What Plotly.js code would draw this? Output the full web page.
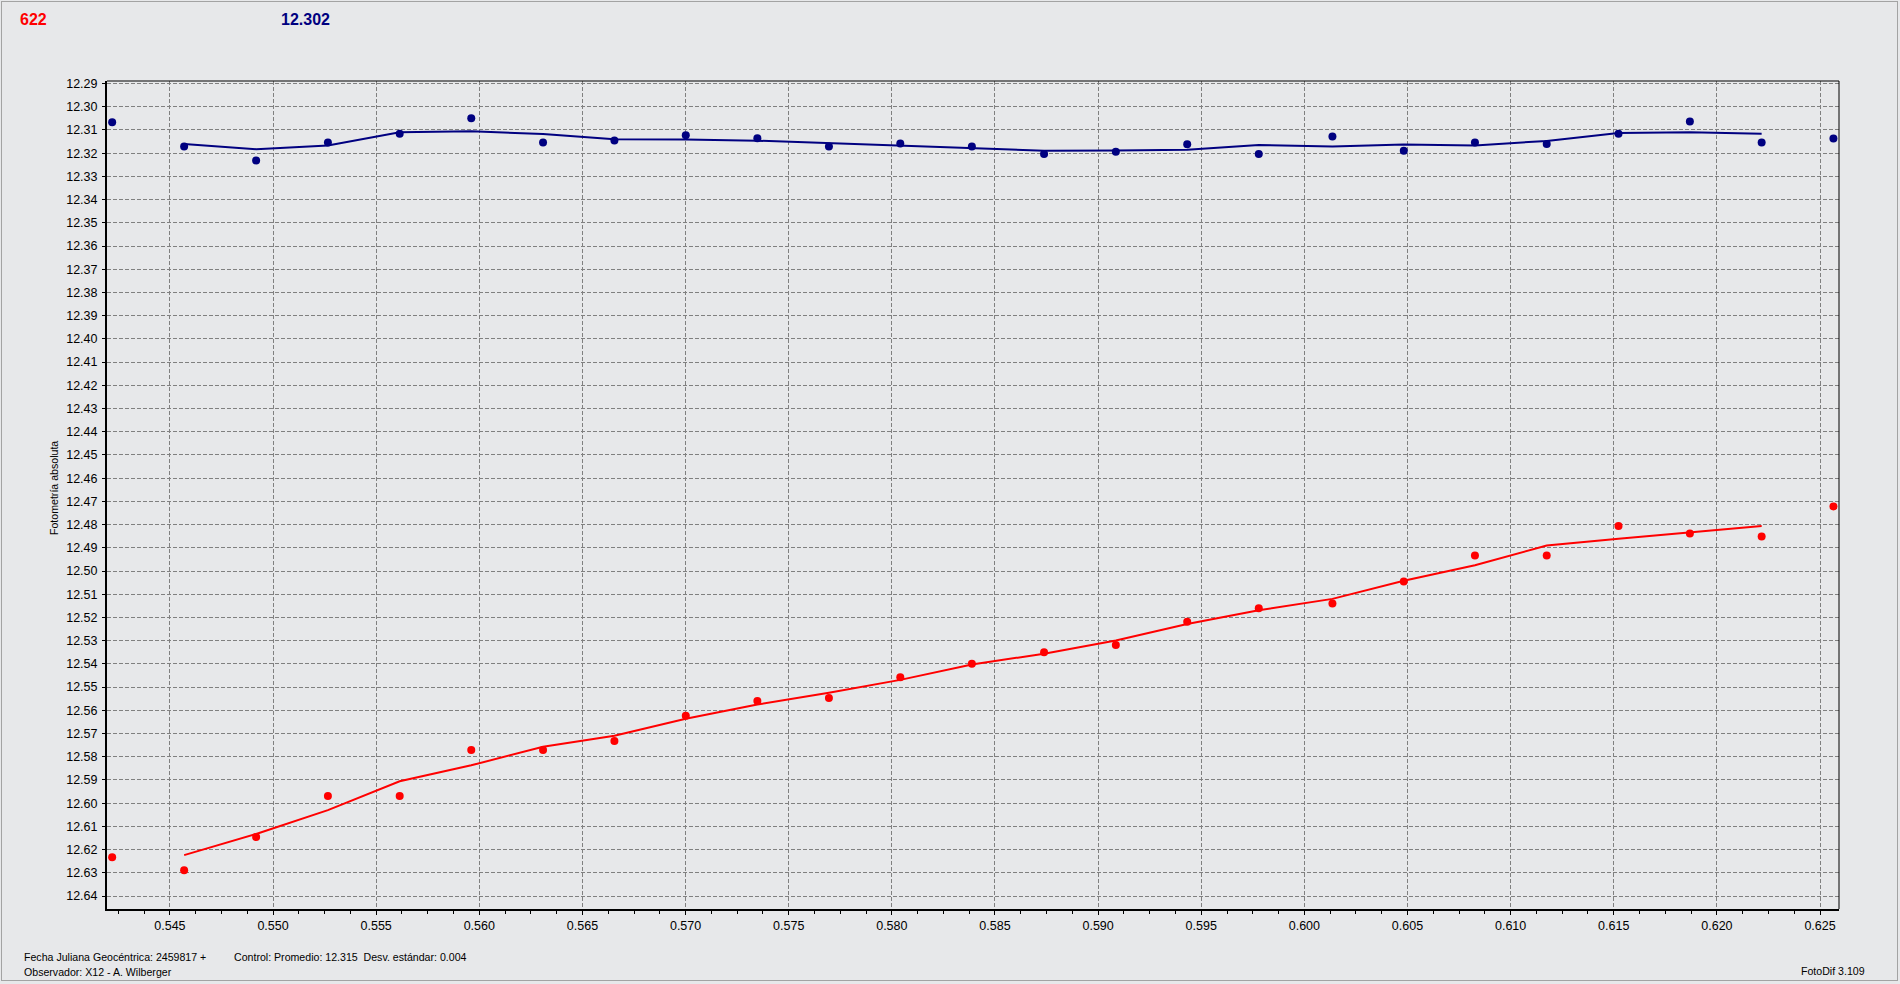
<!DOCTYPE html>
<html>
<head>
<meta charset="utf-8">
<script src="https://cdn.plot.ly/plotly-3.0.1.min.js"></script>
<style>
  html, body { margin: 0; padding: 0; background: #E7E8EA; overflow: hidden; }
  #chart { width: 1900px; height: 984px; }
  #frame { position: absolute; left: 1px; top: 1px; width: 1895px; height: 978px;
           border: 1px solid #A3A3A3; pointer-events: none; }
</style>
</head>
<body>
<div id="chart"></div>
<div id="frame"></div>
<script>
// Time (fraction of Julian day after 2459817)
const jdFraction = [0.54220, 0.54569, 0.54918, 0.55266, 0.55614, 0.55961, 0.56309, 0.56655,
  0.57001, 0.57348, 0.57695, 0.58041, 0.58388, 0.58738, 0.59086, 0.59432, 0.59779, 0.60136,
  0.60482, 0.60827, 0.61175, 0.61523, 0.61869, 0.62217, 0.62565];

// Target (red) magnitudes
const targetMag = [12.6233, 12.6289, 12.6146, 12.5969, 12.5969, 12.5771, 12.5771, 12.5732,
  12.5623, 12.5560, 12.5547, 12.5458, 12.5400, 12.5350, 12.5319, 12.5219, 12.5160, 12.5140,
  12.5045, 12.4933, 12.4933, 12.4806, 12.4838, 12.4851, 12.4722];

// Target smoothed curve (points 2..24)
const targetCurve = [12.6224, 12.6133, 12.6030, 12.5906, 12.5837, 12.5757, 12.5710, 12.5636,
  12.5575, 12.5524, 12.5469, 12.5403, 12.5356, 12.5299, 12.5228, 12.5169, 12.5120, 12.5042,
  12.4975, 12.4890, 12.4861, 12.4833, 12.4806];

// Control (navy) magnitudes
const controlMag = [12.3067, 12.3171, 12.3231, 12.3154, 12.3116, 12.3050, 12.3154, 12.3145,
  12.3123, 12.3136, 12.3171, 12.3158, 12.3171, 12.3204, 12.3194, 12.3162, 12.3203, 12.3128,
  12.3189, 12.3154, 12.3160, 12.3116, 12.3063, 12.3154, 12.3137];

// Control smoothed curve (points 2..24)
const controlCurve = [12.3160, 12.3183, 12.3167, 12.3110, 12.3106, 12.3117, 12.3140, 12.3141,
  12.3146, 12.3156, 12.3168, 12.3176, 12.3189, 12.3188, 12.3185, 12.3165, 12.3171, 12.3163,
  12.3167, 12.3147, 12.3113, 12.3110, 12.3116];

const curveTime = jdFraction.slice(1, 24);

const headerTarget = '622';
const headerControl = '12.302';
const yTitle = 'Fotometría absoluta';
const footer1 = 'Fecha Juliana Geocéntrica: 2459817 +';
const footer2 = 'Control: Promedio: 12.315\u00A0\u00A0Desv. estándar: 0.004';
const footer3 = 'Observador: X12 - A. Wilberger';
const footer4 = 'FotoDif 3.109';

// layout geometry (pixels)
const W = 1900, H = 984;
const mL = 107, mR = 61, mT = 81, mB = 75;
const PW = W - mL - mR, PH = H - mT - mB;
const px = p => (p - mL) / PW;
const py = q => (H - mB - q) / PH;

const tickFont = { family: 'Liberation Sans, Arial, sans-serif', size: 12.5, color: '#000000' };
const smallFont = { family: 'Liberation Sans, Arial, sans-serif', size: 10.6, color: '#000000' };

const traces = [
  { x: curveTime, y: controlCurve, mode: 'lines', line: { color: '#000080', width: 2 }, hoverinfo: 'skip' },
  { x: jdFraction, y: controlMag, mode: 'markers', marker: { color: '#000080', size: 8 } },
  { x: curveTime, y: targetCurve, mode: 'lines', line: { color: '#FF0000', width: 2 }, hoverinfo: 'skip' },
  { x: jdFraction, y: targetMag, mode: 'markers', marker: { color: '#FF0000', size: 8 } }
];

const layout = {
  width: W, height: H,
  margin: { l: mL, r: mR, t: mT, b: mB, pad: 0 },
  paper_bgcolor: '#E7E8EA',
  plot_bgcolor: '#E7E8EA',
  showlegend: false,
  xaxis: {
    range: [0.54195, 0.62592],
    tick0: 0.545, dtick: 0.005, tickformat: '.3f',
    ticks: 'outside', ticklen: 4, tickcolor: '#000000', tickwidth: 1,
    showgrid: true, gridcolor: '#808080', griddash: '4px,2px', gridwidth: 1,
    showline: true, linecolor: '#000000', linewidth: 2,
    zeroline: false, tickfont: tickFont,
    minor: { dtick: 0.00125, ticks: 'outside', ticklen: 3, tickcolor: '#000000', showgrid: false }
  },
  yaxis: {
    range: [12.6456, 12.2889],
    tick0: 12.29, dtick: 0.01, tickformat: '.2f',
    ticks: 'outside', ticklen: 3, tickcolor: '#000000', tickwidth: 1,
    showgrid: true, gridcolor: '#808080', griddash: '4px,2px', gridwidth: 1,
    showline: true, linecolor: '#000000', linewidth: 2,
    zeroline: false, tickfont: tickFont, ticklabelstandoff: 2
  },
  shapes: [
    { type: 'line', xref: 'paper', yref: 'paper', x0: 0, x1: 1, y0: 1, y1: 1, line: { color: '#000000', width: 1 } },
    { type: 'line', xref: 'paper', yref: 'paper', x0: 1, x1: 1, y0: 0, y1: 1, line: { color: '#000000', width: 1 } }
  ],
  annotations: [
    { text: headerTarget, xref: 'paper', yref: 'paper', x: px(18), y: py(20), xanchor: 'left', yanchor: 'middle',
      showarrow: false, font: { family: 'Liberation Sans, Arial, sans-serif', size: 16, color: '#FF0000', weight: 'bold' } },
    { text: headerControl, xref: 'paper', yref: 'paper', x: px(279), y: py(20), xanchor: 'left', yanchor: 'middle',
      showarrow: false, font: { family: 'Liberation Sans, Arial, sans-serif', size: 16, color: '#000080', weight: 'bold' } },
    { text: yTitle, xref: 'paper', yref: 'paper', x: px(54), y: py(488), xanchor: 'center', yanchor: 'middle',
      textangle: -90, showarrow: false, font: smallFont },
    { text: footer1, xref: 'paper', yref: 'paper', x: px(22), y: py(957), xanchor: 'left', yanchor: 'middle',
      showarrow: false, font: smallFont },
    { text: footer2, xref: 'paper', yref: 'paper', x: px(232), y: py(957), xanchor: 'left', yanchor: 'middle',
      showarrow: false, font: smallFont },
    { text: footer3, xref: 'paper', yref: 'paper', x: px(22), y: py(972), xanchor: 'left', yanchor: 'middle',
      showarrow: false, font: smallFont },
    { text: footer4, xref: 'paper', yref: 'paper', x: px(1799), y: py(971), xanchor: 'left', yanchor: 'middle',
      showarrow: false, font: smallFont }
  ]
};

Plotly.newPlot('chart', traces, layout, { staticPlot: true, displayModeBar: false });
</script>
</body>
</html>
